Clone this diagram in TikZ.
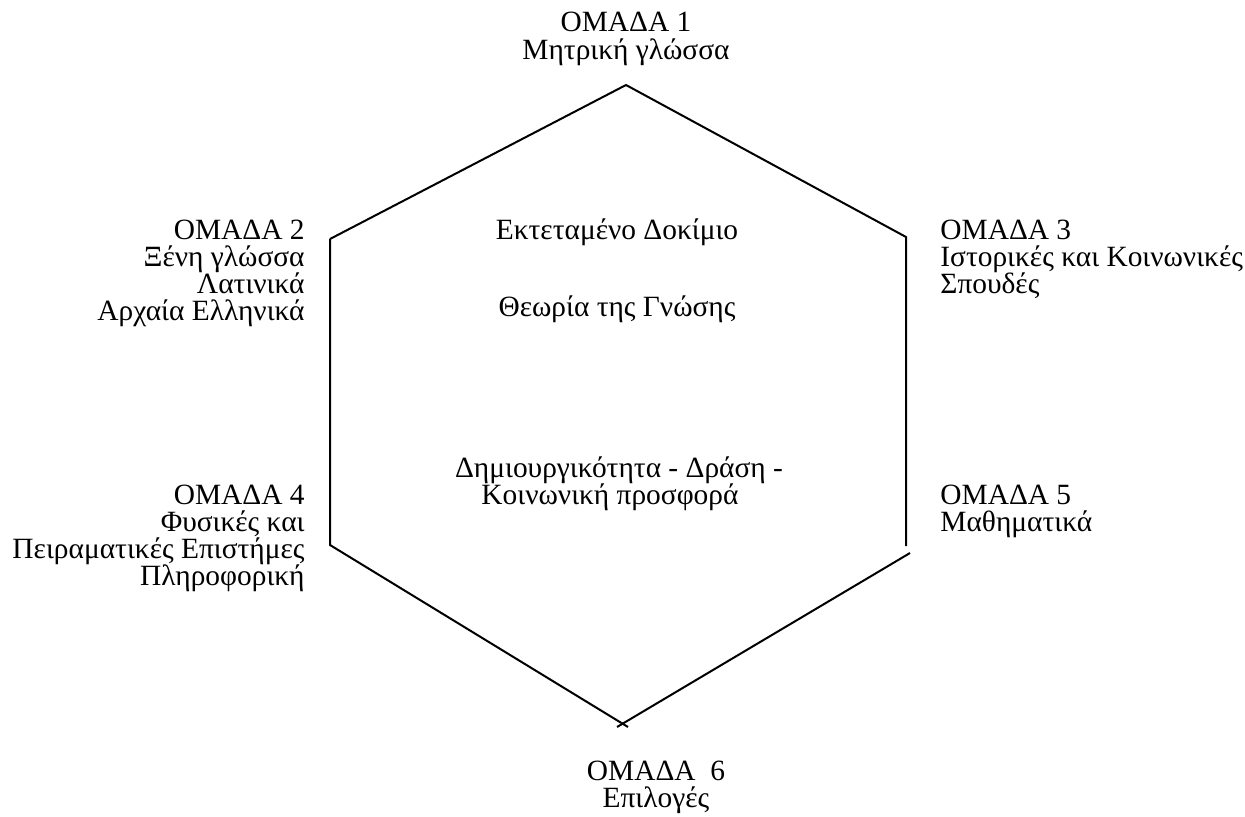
\documentclass[tikz,border=0pt]{standalone}
\usepackage{fontspec}
\setmainfont{Liberation Serif}
\begin{document}
\begin{tikzpicture}[x=0.5pt,y=-0.5pt,
  edge/.style={line width=1pt,line join=miter},
  lbl/.style={inner sep=0pt,font=\fontsize{14.7}{13.5}\selectfont}]
\useasboundingbox (0,0) rectangle (1245,817);
% hexagon corners
\coordinate (top) at (626,85);
\coordinate (ul) at (330,239);
\coordinate (ll) at (330,545);
\coordinate (ur) at (906,237);
\coordinate (rr) at (906,546);
\coordinate (lr) at (910,553);
\coordinate (b1) at (628,727);
\coordinate (b2) at (617,727);
\draw[edge] (ul) -- (top) -- (ur) -- (rr);
\draw[edge] (ul) -- (ll) -- (b1);
\draw[edge] (lr) -- (b2);
% group 1
\node[lbl,anchor=base] (g1a) at (626,32) {ΟΜΑΔΑ 1};
\node[lbl,anchor=base] (g1b) at (626,60) {Μητρική γλώσσα};
% group 2
\node[lbl,anchor=base east] (g2a) at (305,240) {ΟΜΑΔΑ 2};
\node[lbl,anchor=base east] (g2b) at (305,267) {Ξένη γλώσσα};
\node[lbl,anchor=base east] (g2c) at (305,294) {Λατινικά};
\node[lbl,anchor=base east] (g2d) at (305,321) {Αρχαία Ελληνικά};
% group 3
\node[lbl,anchor=base west] (g3a) at (940,240) {ΟΜΑΔΑ 3};
\node[lbl,anchor=base west] (g3b) at (940,267) {Ιστορικές και Κοινωνικές};
\node[lbl,anchor=base west] (g3c) at (940,294) {Σπουδές};
% centre
\node[lbl,anchor=base] (c1) at (617,240) {Εκτεταμένο Δοκίμιο};
\node[lbl,anchor=base] (c2) at (617,317) {Θεωρία της Γνώσης};
\node[lbl,anchor=base] (c3) at (619,477) {Δημιουργικότητα - Δράση -};
\node[lbl,anchor=base] (c4) at (610,504) {Κοινωνική προσφορά};
% group 4
\node[lbl,anchor=base east] (g4a) at (305,504) {ΟΜΑΔΑ 4};
\node[lbl,anchor=base east] (g4b) at (305,531) {Φυσικές και};
\node[lbl,anchor=base east] (g4c) at (305,558) {Πειραματικές Επιστήμες};
\node[lbl,anchor=base east] (g4d) at (305,585) {Πληροφορική};
% group 5
\node[lbl,anchor=base west] (g5a) at (940,504) {ΟΜΑΔΑ 5};
\node[lbl,anchor=base west] (g5b) at (940,531) {Μαθηματικά};
% group 6
\node[lbl,anchor=base] (g6a) at (656,780) {ΟΜΑΔΑ\ \ 6};
\node[lbl,anchor=base] (g6b) at (656,807) {Επιλογές};
\end{tikzpicture}
\end{document}
